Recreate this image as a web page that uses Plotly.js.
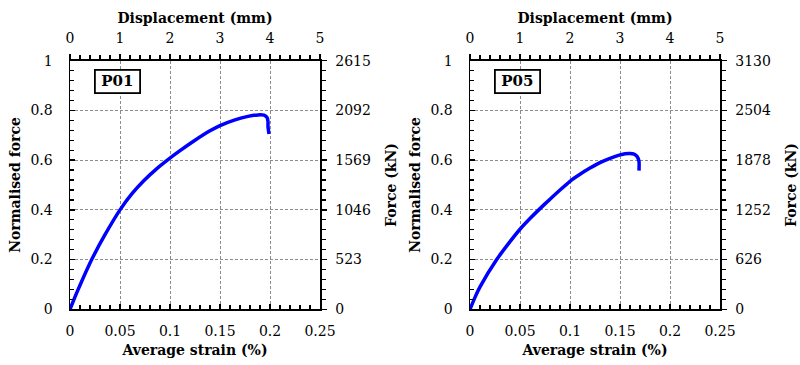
<!DOCTYPE html>
<html>
<head>
<meta charset="utf-8">
<script src="https://cdn.plot.ly/plotly-3.0.1.min.js"></script>
<style>html,body{margin:0;padding:0;background:#fff}#chart{width:800px;height:365px}</style>
</head>
<body>
<div id="chart"></div>
<script>
// ---- data ----
const strainP01 = [0, 0.005, 0.01, 0.0217, 0.035, 0.05, 0.062, 0.074, 0.086, 0.098, 0.11, 0.125, 0.14, 0.15, 0.165, 0.178, 0.188, 0.194, 0.197, 0.198, 0.198, 0.199];
const normP01   = [0, 0.05, 0.097, 0.2, 0.3, 0.4, 0.465, 0.518, 0.563, 0.602, 0.638, 0.68, 0.718, 0.739, 0.762, 0.776, 0.782, 0.781, 0.772, 0.755, 0.735, 0.705];
const strainP05 = [0, 0.005, 0.01, 0.0267, 0.04, 0.05, 0.06, 0.07, 0.08, 0.09, 0.1, 0.11, 0.12, 0.13, 0.14, 0.15, 0.155, 0.16, 0.164, 0.167, 0.169, 0.169];
const normP05   = [0, 0.048, 0.09, 0.2, 0.272, 0.322, 0.365, 0.405, 0.443, 0.48, 0.515, 0.543, 0.568, 0.59, 0.607, 0.621, 0.626, 0.627, 0.624, 0.615, 0.595, 0.558];

const strainTicks = [0, 0.05, 0.1, 0.15, 0.2, 0.25];
const dispTicks = [0, 1, 2, 3, 4, 5];
const normTicks = [0, 0.2, 0.4, 0.6, 0.8, 1];
const forceTicksP01 = [0, 523, 1046, 1569, 2092, 2615];
const forceTicksP05 = [0, 626, 1252, 1878, 2504, 3130];
const labels = ['P01', 'P05'];

const FONT = '"DejaVu Serif", "Liberation Serif", serif';
const tickFont = {family: FONT, size: 14, color: '#000'};
const titleFont = {family: FONT, size: 14, color: '#000'};

const curveLine = {color: '#0000FF', width: 3.5, shape: 'spline', smoothing: 0.5};
const traces = [
  {x: strainP01, y: normP01, xaxis: 'x', yaxis: 'y', mode: 'lines', type: 'scatter',
   line: curveLine, showlegend: false, hoverinfo: 'skip'},
  // helper (transparent) traces so the secondary displacement / force axes are drawn
  {x: dispTicks, y: forceTicksP01, xaxis: 'x2', yaxis: 'y2', mode: 'markers', type: 'scatter',
   marker: {opacity: 0, size: 1}, showlegend: false, hoverinfo: 'skip'},
  {x: strainP05, y: normP05, xaxis: 'x3', yaxis: 'y3', mode: 'lines', type: 'scatter',
   line: curveLine, showlegend: false, hoverinfo: 'skip'},
  {x: dispTicks, y: forceTicksP05, xaxis: 'x4', yaxis: 'y4', mode: 'markers', type: 'scatter',
   marker: {opacity: 0, size: 1}, showlegend: false, hoverinfo: 'skip'}
];

const ydom = [0.1526, 0.8337];
const common = {showline: true, linecolor: '#000', linewidth: 1.5, zeroline: false,
  tickfont: tickFont, tickcolor: '#000', tickwidth: 1.5, automargin: false, fixedrange: true};
const gridStyle = {showgrid: true, gridcolor: '#8c8c8c', griddash: '3px,2px', gridwidth: 1};

function strainAxis(dom, anchor) {
  return Object.assign({}, common, gridStyle, {
    domain: dom, anchor: anchor, side: 'bottom', range: [0, 0.25],
    tickmode: 'array', tickvals: strainTicks, ticktext: strainTicks.map(String),
    ticks: 'inside', ticklen: 5, ticklabelstandoff: 8,
    minor: {dtick: 0.01, tick0: 0, ticks: 'inside', ticklen: 4, tickcolor: '#000', tickwidth: 1.2, showgrid: false},
    title: {text: '<b>Average strain (%)</b>', font: titleFont, standoff: 7}
  });
}
function dispAxis(over, anchor) {
  return Object.assign({}, common, {
    overlaying: over, anchor: anchor, side: 'top', range: [0, 5],
    tickmode: 'array', tickvals: dispTicks, ticktext: dispTicks.map(String),
    ticks: 'outside', ticklen: 5, ticklabelstandoff: 6,
    minor: {dtick: 0.2, tick0: 0, ticks: 'outside', ticklen: 4, tickcolor: '#000', tickwidth: 1.2},
    showgrid: false,
    title: {text: '<b>Displacement (mm)</b>', font: titleFont, standoff: 2}
  });
}
function normAxis(anchor) {
  return Object.assign({}, common, gridStyle, {
    domain: ydom, anchor: anchor, side: 'left', range: [0, 1],
    tickmode: 'array', tickvals: normTicks, ticktext: normTicks.map(String),
    ticks: 'inside', ticklen: 5, ticklabelstandoff: 13,
    minor: {dtick: 0.04, tick0: 0, ticks: 'inside', ticklen: 4, tickcolor: '#000', tickwidth: 1.2, showgrid: false},
    title: {text: '<b>Normalised force</b>', font: titleFont, standoff: 6}
  });
}
function forceAxis(over, anchor, ticks) {
  return Object.assign({}, common, {
    overlaying: over, anchor: anchor, side: 'right', range: [0, ticks[ticks.length - 1]],
    tickmode: 'array', tickvals: ticks, ticktext: ticks.map(String),
    ticks: 'outside', ticklen: 5, ticklabelstandoff: 6,
    minor: {dtick: ticks[1] / 5, tick0: 0, ticks: 'outside', ticklen: 4, tickcolor: '#000', tickwidth: 1.2},
    showgrid: false,
    title: {text: '<b>Force (kN)</b>', font: titleFont, standoff: 16}
  });
}

const layout = {
  width: 800, height: 365,
  margin: {l: 0, r: 0, t: 0, b: 0},
  paper_bgcolor: '#fff', plot_bgcolor: '#fff',
  font: {family: FONT, color: '#000'},
  showlegend: false,
  xaxis: strainAxis([0.0875, 0.4], 'y'),
  xaxis2: dispAxis('x', 'y'),
  yaxis: normAxis('x'),
  yaxis2: forceAxis('y', 'x', forceTicksP01),
  xaxis3: strainAxis([0.5875, 0.9], 'y3'),
  xaxis4: dispAxis('x3', 'y3'),
  yaxis3: normAxis('x3'),
  yaxis4: forceAxis('y3', 'x3', forceTicksP05),
  annotations: [
    {text: '<b>' + labels[0] + '</b>', xref: 'x', yref: 'y', x: 0.0475, y: 0.915, showarrow: false,
     font: {family: FONT, size: 15, color: '#000'}, bordercolor: '#000', borderwidth: 1.8, borderpad: 2,
     bgcolor: '#fff', width: 39, height: 17},
    {text: '<b>' + labels[1] + '</b>', xref: 'x3', yref: 'y3', x: 0.0475, y: 0.915, showarrow: false,
     font: {family: FONT, size: 15, color: '#000'}, bordercolor: '#000', borderwidth: 1.8, borderpad: 2,
     bgcolor: '#fff', width: 39, height: 17}
  ]
};

Plotly.newPlot('chart', traces, layout, {staticPlot: true, displayModeBar: false});
</script>
</body>
</html>
